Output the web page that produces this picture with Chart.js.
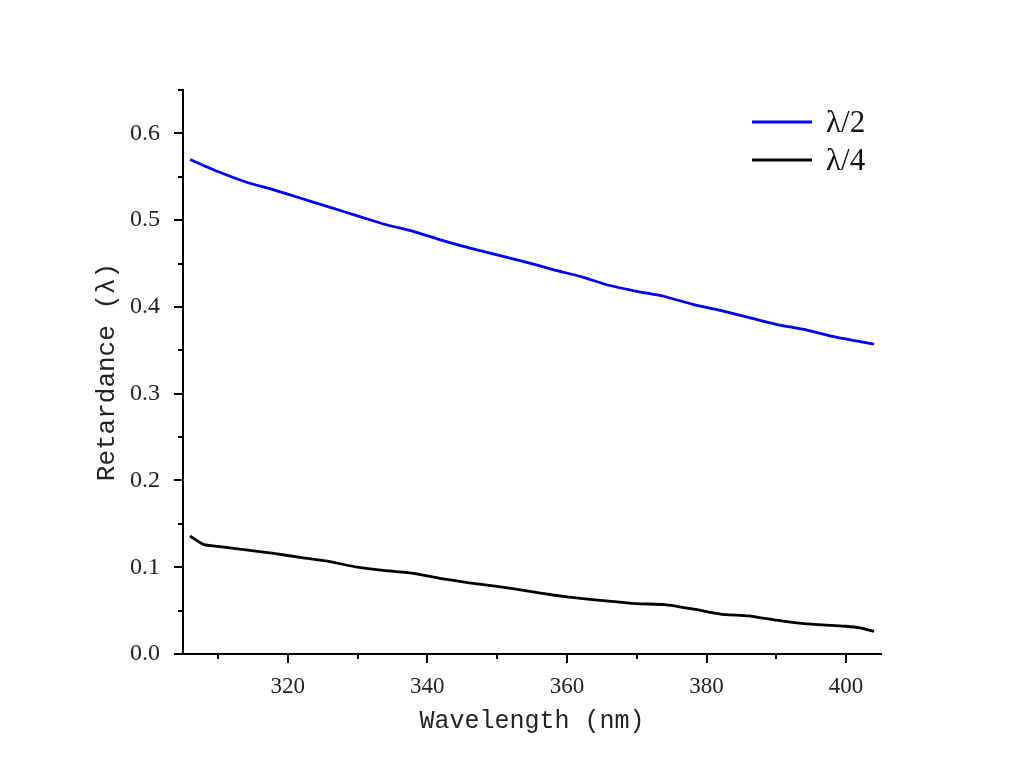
<!DOCTYPE html>
<html>
<head>
<meta charset="utf-8">
<script src="https://cdn.jsdelivr.net/npm/chart.js@4.4.1/dist/chart.umd.min.js"></script>
<style>html,body{margin:0;padding:0;background:#fff;}canvas{display:block;}</style>
</head>
<body>
<canvas id="c" width="1024" height="784"></canvas>
<script>
// Data
const halfWaveNm = [306, 310, 314, 318, 322, 326, 330, 334, 338, 342, 346, 350, 354, 358, 362, 366, 370, 374, 378, 382, 386, 390, 394, 398, 402, 404];
const halfWaveRet = [0.570, 0.556, 0.544, 0.535, 0.525, 0.515, 0.505, 0.495, 0.487, 0.477, 0.468, 0.460, 0.452, 0.443, 0.435, 0.425, 0.418, 0.412, 0.403, 0.396, 0.388, 0.380, 0.374, 0.366, 0.360, 0.357];
const quarterWaveNm = [306, 308, 310, 314, 318, 322, 326, 330, 334, 338, 342, 346, 350, 354, 358, 362, 366, 370, 374, 378, 382, 386, 390, 394, 398, 400, 402, 404];
const quarterWaveRet = [0.136, 0.126, 0.124, 0.120, 0.116, 0.111, 0.1065, 0.100, 0.096, 0.093, 0.087, 0.082, 0.078, 0.073, 0.068, 0.064, 0.061, 0.058, 0.057, 0.052, 0.046, 0.044, 0.039, 0.035, 0.033, 0.032, 0.030, 0.026];
const seriesLabels = ['λ/2', 'λ/4'];
const xTickLabels = ['320', '340', '360', '380', '400'];
const yTickLabels = ['0.0', '0.1', '0.2', '0.3', '0.4', '0.5', '0.6'];
const xTitle = 'Wavelength (nm)';
const yTitle = 'Retardance (λ)';

const toPts = (xs, ys) => xs.map((x, i) => ({x: x, y: ys[i]}));

const decor = {
  id: 'decor',
  afterDraw(chart) {
    const ctx = chart.ctx;
    const xs = chart.scales.x, ys = chart.scales.y;
    const ca = chart.chartArea;
    ctx.save();
    ctx.strokeStyle = '#000';
    ctx.lineWidth = 2;
    // x ticks (major every 20, minor every 10)
    for (let v = 310; v <= 400; v += 10) {
      const px = Math.round(xs.getPixelForValue(v));
      const major = v % 20 === 0;
      ctx.beginPath();
      ctx.moveTo(px, ca.bottom);
      ctx.lineTo(px, ca.bottom + (major ? 9 : 5));
      ctx.stroke();
    }
    // y ticks (major every 0.1, minor every 0.05)
    for (let i = 0; i <= 13; i++) {
      const v = i * 0.05;
      const py = Math.round(ys.getPixelForValue(v));
      const major = i % 2 === 0;
      ctx.beginPath();
      ctx.moveTo(ca.left, py);
      ctx.lineTo(ca.left - (major ? 9 : 5), py);
      ctx.stroke();
    }
    // axis titles
    ctx.fillStyle = '#222';
    ctx.font = '25px "Liberation Mono"';
    ctx.textAlign = 'center';
    ctx.textBaseline = 'middle';
    ctx.fillText(xTitle, (ca.left + ca.right) / 2, 721);
    ctx.save();
    ctx.translate(107, (ca.top + ca.bottom) / 2);
    ctx.rotate(-Math.PI / 2);
    ctx.font = '26px "Liberation Mono"';
    ctx.fillText(yTitle, 0, 0);
    ctx.restore();
    // legend
    const ds = chart.data.datasets;
    const legendY = [122, 160];
    ds.forEach((d, i) => {
      ctx.strokeStyle = d.borderColor;
      ctx.lineWidth = 2.8;
      ctx.beginPath();
      ctx.moveTo(752, legendY[i]);
      ctx.lineTo(812, legendY[i]);
      ctx.stroke();
      ctx.fillStyle = '#111';
      ctx.font = '31px "Liberation Serif"';
      ctx.textAlign = 'left';
      ctx.textBaseline = 'middle';
      ctx.fillText(d.label, 826, legendY[i] + 2);
    });
    ctx.restore();
  }
};

new Chart(document.getElementById('c'), {
  type: 'scatter',
  data: {
    datasets: [
      {label: seriesLabels[0], data: toPts(halfWaveNm, halfWaveRet), showLine: true, borderColor: '#0000ff', borderWidth: 2.8, pointRadius: 0, tension: 0.2, fill: false},
      {label: seriesLabels[1], data: toPts(quarterWaveNm, quarterWaveRet), showLine: true, borderColor: '#000000', borderWidth: 2.8, pointRadius: 0, tension: 0.15, fill: false}
    ]
  },
  options: {
    responsive: false,
    animation: false,
    layout: {padding: {left: 0, top: 90, right: 143, bottom: 0}},
    plugins: {legend: {display: false}, tooltip: {enabled: false}},
    scales: {
      x: {
        type: 'linear', min: 305, max: 405,
        afterFit: s => { s.height = 130; },
        afterBuildTicks: s => { s.ticks = xTickLabels.map(t => ({value: Number(t)})); },
        grid: {display: false},
        border: {display: true, color: '#000', width: 2},
        ticks: {color: '#222', font: {family: 'Liberation Serif', size: 23}, padding: 11, maxRotation: 0, callback: v => String(v)}
      },
      y: {
        type: 'linear', min: 0, max: 0.65,
        afterFit: s => { s.width = 183; },
        afterBuildTicks: s => { s.ticks = yTickLabels.map(t => ({value: Number(t)})); },
        grid: {display: false},
        border: {display: true, color: '#000', width: 2},
        ticks: {color: '#222', font: {family: 'Liberation Serif', size: 24}, padding: 15, callback: (v, i) => yTickLabels[i]}
      }
    }
  },
  plugins: [decor]
});
</script>
</body>
</html>
